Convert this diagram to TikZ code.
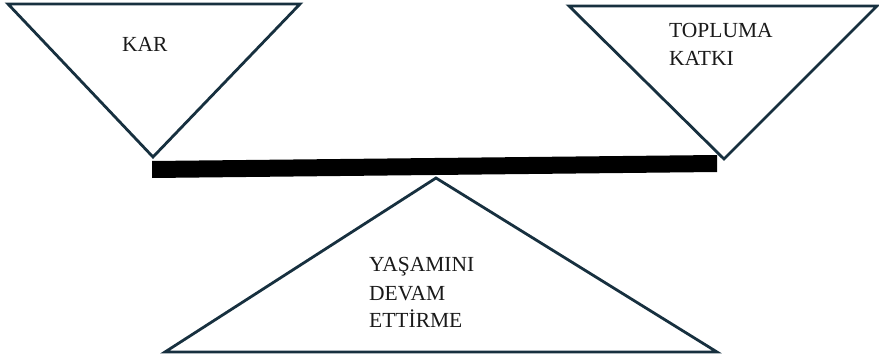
\documentclass[tikz,border=0pt]{standalone}
\usepackage{fontspec}
\setmainfont{Liberation Serif}
\definecolor{edge}{HTML}{17303F}
\definecolor{txt}{HTML}{1A1A1A}
\begin{document}
\begin{tikzpicture}[x=1pt,y=-1pt,
  tri/.style={draw=edge,line width=2.8pt,line join=miter,fill=white},
  lbl/.style={anchor=base west,inner sep=0pt,text=txt,font=\fontsize{21.5}{28.5}\selectfont}]
\useasboundingbox (0,0) rectangle (879,361);
% left triangle
\coordinate (l1) at (8,4);
\coordinate (l2) at (300,4);
\coordinate (l3) at (153,157);
\draw[tri] (l1) -- (l2) -- (l3) -- cycle;
% right triangle
\coordinate (r1) at (569,6);
\coordinate (r2) at (877,6);
\coordinate (r3) at (724,159);
\draw[tri] (r1) -- (r2) -- (r3) -- cycle;
% bottom triangle
\coordinate (b1) at (436,178);
\coordinate (b2) at (717,352);
\coordinate (b3) at (165,352);
\draw[tri] (b1) -- (b2) -- (b3) -- cycle;
% beam
\coordinate (p1) at (152,161);
\coordinate (p2) at (717,155);
\coordinate (p3) at (717,172);
\coordinate (p4) at (152,178);
\fill[black] (p1) -- (p2) -- (p3) -- (p4) -- cycle;
% labels
\node[lbl] (kar) at (122,51.5) {KAR};
\node[lbl] (top1) at (669,37.5) {TOPLUMA};
\node[lbl] (top2) at (669,66) {KATKI};
\node[lbl] (y1) at (369,271) {YAŞAMINI};
\node[lbl] (y2) at (369,300) {DEVAM};
\node[lbl] (y3) at (369,327) {ETTİRME};
\end{tikzpicture}
\end{document}
